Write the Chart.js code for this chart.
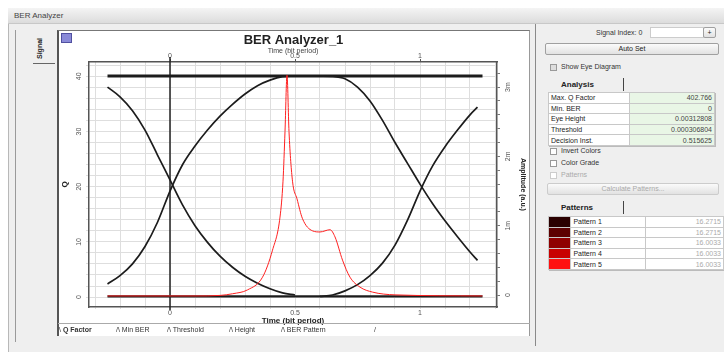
<!DOCTYPE html>
<html>
<head>
<meta charset="utf-8">
<script src="https://cdn.jsdelivr.net/npm/chart.js@4.4.0/dist/chart.umd.min.js"></script>
<style>
body{margin:0;width:724px;height:352px;background:#fff;font-family:"Liberation Sans",Arial,sans-serif;position:relative;overflow:hidden;color:#222}
.a{position:absolute}
#win{left:8px;top:8px;width:716px;height:344px;background:#efefef;border-left:1px solid #b8b8b8}
#bar{left:8px;top:8px;width:716px;height:15px;background:linear-gradient(#f4f4f4,#dcdcdc);border-bottom:1px solid #c8c8c8}
#bar span{position:absolute;left:6px;top:3px;font-size:8px;color:#444}
#leftedge{left:15px;top:30px;width:1px;height:312px;background:#9a9a9a}
#signal{left:34px;top:37px;width:16px;height:24px}
#signal span{position:absolute;left:-5px;top:8px;transform:rotate(-90deg);font-size:7px;font-weight:bold}
#sigline{left:33px;top:63px;width:22px;height:1px;background:#666}
#panel{left:57px;top:30px;width:473px;height:306px;background:#fff;border-left:2px solid #555;border-top:1px solid #777;border-right:1px solid #999;box-sizing:border-box}
#icon{left:61px;top:33px;width:9px;height:8px;background:#8a8ad8;border:1px solid #5050a0}
#chartwrap{left:57px;top:26px;width:473px;height:302px}
#tabline{left:58px;top:323px;width:472px;height:1px;background:#aaa}
.tab{font-size:7px;top:326px;color:#333;white-space:nowrap}
#rp{left:535px;top:24px;width:189px;height:322px;border-left:1px solid #8a8a8a}
.t7{font-size:7px;color:#333;white-space:nowrap}
.btn{border:1px solid #a0a0a0;border-radius:2px;background:linear-gradient(#fbfbfb,#e2e2e2);font-size:7px;text-align:center;line-height:10px;box-sizing:border-box}
.cb{width:7px;height:7px;border:1px solid #999;background:#fff;box-sizing:border-box}
.hdr{font-size:8px;font-weight:bold;color:#222}
.vl{width:1px;background:#444}
table{border-collapse:collapse;font-size:7px;position:absolute;border:1px solid #888;box-shadow:1px 1px 0 #bbb}
td{border:1px solid #c8c8c8;padding:0 2px;height:9.6px;line-height:9px;white-space:nowrap}
.lab{background:#fff;color:#222;width:76px}
.val{background:#e9f6e6;text-align:right;color:#444;width:80px}
.pv{background:#fff;text-align:right;color:#aaa;width:80px}
</style>
</head>
<body>
<div class="a" id="win"></div>
<div class="a" id="bar"><span>BER Analyzer</span></div>
<div class="a" id="leftedge"></div>
<div class="a" id="signal"><span>Signal</span></div>
<div class="a" id="sigline"></div>
<div class="a" id="panel"></div>
<div class="a" id="icon"></div>
<div class="a" id="chartwrap"><canvas id="c" width="473" height="302"></canvas></div>
<div class="a" id="tabline"></div>
<div class="a tab" style="left:59px">\ <b>Q Factor</b></div>
<div class="a tab" style="left:116px">/\ Min BER</div>
<div class="a tab" style="left:167px">/\ Threshold</div>
<div class="a tab" style="left:229px">/\ Height</div>
<div class="a tab" style="left:281px">/\ BER Pattern</div>
<div class="a tab" style="left:374px">/</div>

<div class="a" id="rp"></div>
<div class="a t7" style="left:596px;top:29px">Signal Index: 0</div>
<div class="a" style="left:650px;top:27px;width:54px;height:11px;background:#fff;border:1px solid #ccc;box-sizing:border-box"></div>
<div class="a btn" style="left:703px;top:27px;width:13px;height:11px;font-size:7px;line-height:9px">+</div>
<div class="a btn" style="left:545px;top:43px;width:174px;height:12px">Auto Set</div>
<div class="a cb" style="left:550px;top:64px;background:#ddd"></div>
<div class="a t7" style="left:561px;top:63px">Show Eye Diagram</div>
<div class="a hdr" style="left:561px;top:80px">Analysis</div>
<div class="a vl" style="left:623px;top:78px;height:13px"></div>
<table style="left:548px;top:92px">
<tr><td class="lab">Max. Q Factor</td><td class="val">402.766</td></tr>
<tr><td class="lab">Min. BER</td><td class="val">0</td></tr>
<tr><td class="lab">Eye Height</td><td class="val">0.00312808</td></tr>
<tr><td class="lab">Threshold</td><td class="val">0.000306804</td></tr>
<tr><td class="lab">Decision Inst.</td><td class="val">0.515625</td></tr>
</table>
<div class="a cb" style="left:550px;top:148px"></div>
<div class="a t7" style="left:561px;top:147px">Invert Colors</div>
<div class="a cb" style="left:550px;top:160px"></div>
<div class="a t7" style="left:561px;top:159px">Color Grade</div>
<div class="a cb" style="left:550px;top:172px;border-color:#ccc"></div>
<div class="a t7" style="left:561px;top:171px;color:#aaa">Patterns</div>
<div class="a btn" style="left:547px;top:183px;width:172px;height:12px;color:#aaa;border-color:#ccc">Calculate Patterns...</div>
<div class="a hdr" style="left:561px;top:203px">Patterns</div>
<div class="a vl" style="left:623px;top:201px;height:13px"></div>
<table style="left:548px;top:216px">
<tr><td style="background:#2a0000;width:20px"></td><td class="lab" style="width:52px">Pattern 1</td><td class="pv">16.2715</td></tr>
<tr><td style="background:#5c0000"></td><td class="lab">Pattern 2</td><td class="pv">16.2715</td></tr>
<tr><td style="background:#8e0000"></td><td class="lab">Pattern 3</td><td class="pv">16.0033</td></tr>
<tr><td style="background:#c80000"></td><td class="lab">Pattern 4</td><td class="pv">16.0033</td></tr>
<tr><td style="background:#ff1010"></td><td class="lab">Pattern 5</td><td class="pv">16.0033</td></tr>
</table>

<script>
// tick values
const xGridTicks = [-0.3,-0.2,-0.1,0,0.1,0.2,0.3,0.4,0.5,0.6,0.7,0.8,0.9,1,1.1,1.2,1.3];
const xLabelTicks = [0, 0.5, 1];
const qGridTicks = [0,2,4,6,8,10,12,14,16,18,20,22,24,26,28,30,32,34,36,38,40,42];
const qLabelTicks = [0, 10, 20, 30, 40];
const ampGridTicks = [0,0.2,0.4,0.6,0.8,1,1.2,1.4,1.6,1.8,2,2.2,2.4,2.6,2.8,3,3.2];
const ampLabelTicks = [0, 1, 2, 3];
const ampLabels = ['0', '1m', '2m', '3m'];

// Q factor vs time (red)
const qTime = [-0.25,0.1,0.2,0.25,0.31,0.37,0.41,0.44,0.452,0.46,0.468,0.476,0.49,0.508,0.53,0.57,0.6,0.64,0.66,0.69,0.72,0.76,0.81,0.9,1.25];
const qFactor = [0.2,0.2,0.3,0.6,1.3,3.6,8.5,14.5,21,30,40.2,30,21,17.8,14.2,12,11.8,12.2,10.9,6.7,3.6,1.8,0.9,0.4,0.2];

// eye diagram traces (amplitude, x1e-3)
const riseLTime = [-0.25,-0.2,-0.15,-0.1,-0.05,0,0.05,0.1,0.15,0.2,0.25,0.3,0.35,0.4,0.45,0.5];
const riseLAmp  = [0.16,0.28,0.45,0.7,1.05,1.5,1.88,2.15,2.38,2.58,2.75,2.9,3.02,3.1,3.15,3.16];
const fallLTime = [-0.25,-0.2,-0.15,-0.1,-0.05,0,0.05,0.1,0.15,0.2,0.25,0.3,0.35,0.4,0.45,0.5];
const fallLAmp  = [3.0,2.86,2.66,2.38,2.02,1.66,1.3,1.0,0.76,0.56,0.4,0.27,0.17,0.09,0.03,0.0];
const fallRTime = [0.6,0.65,0.7,0.75,0.8,0.85,0.9,0.95,1.0,1.05,1.1,1.15,1.2,1.23];
const fallRAmp  = [3.16,3.155,3.12,3.0,2.8,2.52,2.2,1.9,1.6,1.32,1.07,0.84,0.62,0.5];
const riseRTime = [0.6,0.65,0.7,0.75,0.8,0.85,0.9,0.95,1.0,1.05,1.1,1.15,1.2,1.23];
const riseRAmp  = [-0.02,0.0,0.06,0.15,0.28,0.46,0.72,1.08,1.5,1.86,2.14,2.38,2.6,2.71];
const levelTime = [-0.25, 1.25];
const oneLevel  = [3.16, 3.16];
const zeroLevel = [-0.02, -0.02];

const pts = (xs, ys) => xs.map((x, i) => ({x: x, y: ys[i]}));

function eyeSet(xs, ys, w){
  return {data: pts(xs, ys), yAxisID: 'y2', borderColor: '#1c1c1c', borderWidth: w,
          pointRadius: 0, cubicInterpolationMode: 'monotone'};
}

const tickFont = {family: 'Liberation Sans', size: 7};

// dark line at the decision reference (t = 0) and rotated y tick labels
const extras = {
  id: 'extras',
  beforeDatasetsDraw(chart){
    const ctx = chart.ctx, a = chart.chartArea, px = chart.scales.x.getPixelForValue(0);
    ctx.save();
    ctx.strokeStyle = '#222'; ctx.lineWidth = 1.5;
    ctx.beginPath(); ctx.moveTo(px, a.top - 5); ctx.lineTo(px, a.bottom + 3); ctx.stroke();
    ctx.restore();
  },
  afterDraw(chart){
    const ctx = chart.ctx, y = chart.scales.y, y2 = chart.scales.y2;
    ctx.save();
    ctx.font = '7px "Liberation Sans"';
    ctx.fillStyle = '#555';
    ctx.textAlign = 'center';
    ctx.textBaseline = 'middle';
    qLabelTicks.forEach(v => {
      ctx.save(); ctx.translate(y.right - 10, y.getPixelForValue(v)); ctx.rotate(-Math.PI/2);
      ctx.fillText(String(v), 0, 0); ctx.restore();
    });
    ampLabelTicks.forEach((v, i) => {
      ctx.save(); ctx.translate(y2.left + 11, y2.getPixelForValue(v)); ctx.rotate(-Math.PI/2);
      ctx.fillText(ampLabels[i], 0, 0); ctx.restore();
    });
    ctx.restore();
  }
};

new Chart(document.getElementById('c'), {
  type: 'line',
  data: {
    datasets: [
      {data: pts(qTime, qFactor), yAxisID: 'y', borderColor: '#ff2020', borderWidth: 1,
       pointRadius: 0, cubicInterpolationMode: 'monotone'},
      eyeSet(riseLTime, riseLAmp, 1.7),
      eyeSet(fallLTime, fallLAmp, 1.7),
      eyeSet(fallRTime, fallRAmp, 1.7),
      eyeSet(riseRTime, riseRAmp, 1.7),
      eyeSet(levelTime, oneLevel, 3),
      eyeSet(levelTime, zeroLevel, 2.2)
    ]
  },
  options: {
    responsive: false,
    animation: false,
    layout: {padding: 0},
    plugins: {
      legend: {display: false},
      tooltip: {enabled: false},
      title: {display: true, text: 'BER Analyzer_1', color: '#222',
              font: {family: 'Liberation Sans', size: 13, weight: 'bold', lineHeight: 1},
              padding: {top: 8, bottom: 0}}
    },
    scales: {
      x: {
        type: 'linear', position: 'bottom', min: -0.324, max: 1.308,
        afterBuildTicks: s => { s.ticks = xGridTicks.map(v => ({value: v})); },
        afterFit: s => { s.height = 21; },
        ticks: {callback: v => xLabelTicks.includes(v) ? String(v) : '', autoSkip: false, maxRotation: 0,
                font: tickFont, color: '#555', padding: 0},
        grid: {color: '#dedede', tickLength: 2},
        border: {color: '#555', width: 1.5},
        title: {display: true, text: 'Time (bit period)', color: '#222',
                font: {family: 'Liberation Sans', size: 8, weight: 'bold'}, padding: {top: 0, bottom: 2}}
      },
      x2: {
        type: 'linear', position: 'top', min: -0.324, max: 1.308,
        afterBuildTicks: s => { s.ticks = xLabelTicks.map(v => ({value: v})); },
        afterFit: s => { s.height = 15; },
        ticks: {callback: v => String(v), autoSkip: false, maxRotation: 0, font: tickFont, color: '#555', padding: -1},
        grid: {drawOnChartArea: false, tickLength: 3, color: '#555'},
        border: {color: '#555', width: 1.5},
        title: {display: true, text: 'Time (bit period)', color: '#444',
                font: {family: 'Liberation Sans', size: 7}, padding: {top: 0, bottom: 0}}
      },
      y: {
        type: 'linear', position: 'left', min: -1.8, max: 42.6,
        afterBuildTicks: s => { s.ticks = qGridTicks.map(v => ({value: v})); },
        afterFit: s => { s.width = 32; },
        ticks: {display: false},
        grid: {color: '#dedede', tickLength: 3},
        border: {color: '#555', width: 1.5},
        title: {display: true, text: 'Q', color: '#222',
                font: {family: 'Liberation Sans', size: 8, weight: 'bold'}, padding: {top: 3, bottom: 0}}
      },
      y2: {
        type: 'linear', position: 'right', min: -0.173, max: 3.362,
        afterBuildTicks: s => { s.ticks = ampGridTicks.map(v => ({value: v})); },
        afterFit: s => { s.width = 33; },
        ticks: {display: false},
        grid: {drawOnChartArea: false, tickLength: 3, color: '#777'},
        border: {color: '#555', width: 1.5},
        title: {display: true, text: 'Amplitude (a.u.)', color: '#222',
                font: {family: 'Liberation Sans', size: 7, weight: 'bold'}, padding: {top: 3, bottom: 0}}
      }
    }
  },
  plugins: [extras]
});
</script>
</body>
</html>
